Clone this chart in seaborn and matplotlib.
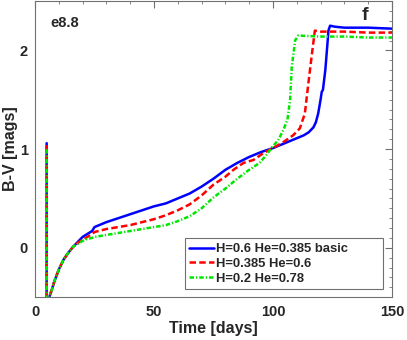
import matplotlib
matplotlib.use("Agg")
import matplotlib.pyplot as plt
import seaborn as sns
from matplotlib.ticker import MultipleLocator

sns.set_style("white")
plt.rcParams['font.family'] = ['Liberation Sans', 'DejaVu Sans']
plt.rcParams['font.weight'] = 'bold'

labels = ["H=0.6 He=0.385 basic", "H=0.385 He=0.6", "H=0.2 He=0.78"]

blue_t = [4.9, 4.9, 5.6, 6.0, 7, 8, 10, 12, 14, 16, 18, 20, 22, 24, 25, 30, 35, 40, 45, 50,
          55, 60, 65, 70, 75, 80, 85, 90, 95, 100, 105, 110, 113, 115, 117, 118, 119, 120,
          120.5, 121, 121.5, 122, 122.5, 123, 123.3, 124, 126, 130, 140, 150]
blue_v = [1.06, -0.6, -0.6, -0.5, -0.43, -0.35, -0.22, -0.12, -0.05, 0.01, 0.06, 0.11, 0.14,
          0.17, 0.21, 0.26, 0.30, 0.34, 0.38, 0.42, 0.45, 0.50, 0.55, 0.62, 0.70, 0.79, 0.86,
          0.92, 0.97, 1.01, 1.06, 1.11, 1.14, 1.17, 1.22, 1.27, 1.36, 1.50, 1.58, 1.60, 1.70,
          1.80, 1.95, 2.10, 2.20, 2.25, 2.24, 2.23, 2.23, 2.22]

red_t = [4.9, 4.9, 5.6, 6.0, 7, 8, 10, 12, 14, 16, 18, 20, 22, 24, 25, 30, 35, 40, 45, 50,
         55, 60, 65, 70, 75, 80, 83.4, 87.6, 91.8, 96, 100, 104.3, 108.5, 111.3, 113.4, 114.8,
         116.2, 117.6, 120, 130, 140, 150]
red_v = [1.04, -0.6, -0.6, -0.5, -0.43, -0.35, -0.22, -0.12, -0.05, 0.01, 0.05, 0.08, 0.11,
         0.14, 0.16, 0.19, 0.21, 0.23, 0.26, 0.29, 0.33, 0.38, 0.44, 0.53, 0.64, 0.72, 0.79,
         0.86, 0.89, 0.96, 1.01, 1.07, 1.14, 1.21, 1.36, 1.65, 1.93, 2.20, 2.19, 2.19, 2.18, 2.18]

green_t = [4.9, 4.9, 5.6, 6.0, 7, 8, 10, 12, 14, 16, 18, 20, 22, 24, 25, 30, 35, 40, 45, 50,
           55, 60, 65, 70, 75, 80, 85, 90, 94.4, 97.2, 100, 102.2, 104.3, 106.1, 107.2, 107.9,
           109.3, 110.6, 120, 130, 140, 150]
green_v = [1.00, -0.6, -0.6, -0.5, -0.43, -0.35, -0.22, -0.12, -0.05, 0.01, 0.04, 0.07, 0.09,
           0.10, 0.11, 0.13, 0.15, 0.17, 0.19, 0.21, 0.23, 0.27, 0.32, 0.40, 0.51, 0.60, 0.70,
           0.79, 0.86, 0.94, 1.03, 1.09, 1.19, 1.30, 1.50, 1.83, 2.10, 2.15, 2.14, 2.14, 2.13, 2.13]

fig = plt.figure(figsize=(4.07, 3.40), dpi=100)
ax = fig.add_axes([0.086, 0.126, 0.877, 0.871])

sns.lineplot(x=blue_t, y=blue_v, sort=False, estimator=None, ax=ax, color=(0, 0, 1),
             lw=1.8, label=labels[0])
sns.lineplot(x=red_t, y=red_v, sort=False, estimator=None, ax=ax, color=(1, 0, 0),
             lw=1.8, label=labels[1], dashes=False, linestyle=(0, (2.6, 1.3)))
sns.lineplot(x=green_t, y=green_v, sort=False, estimator=None, ax=ax, color=(0, 0.9, 0),
             lw=1.8, label=labels[2], dashes=False, linestyle=(0, (1.8, 0.8, 0.5, 0.8)))

ax.set_xlim(0, 150)
ax.set_ylim(-0.5, 2.5)
ax.xaxis.set_major_locator(MultipleLocator(50))
ax.xaxis.set_minor_locator(MultipleLocator(10))
ax.yaxis.set_major_locator(MultipleLocator(1))
ax.yaxis.set_minor_locator(MultipleLocator(0.1))
ax.tick_params(which='both', direction='in', top=True, right=True, color='#707070',
               labelsize=10.5)
ax.tick_params(axis='x', which='major', pad=6)
ax.tick_params(axis='y', which='major', pad=5)
ax.tick_params(which='major', length=5, width=0.8)
ax.tick_params(which='minor', length=2.5, width=0.6)
for lbl in ax.get_xticklabels() + ax.get_yticklabels():
    lbl.set_fontweight('bold')
for s in ax.spines.values():
    s.set_color('#707070')
    s.set_linewidth(0.8)

ax.set_xlabel("Time [days]", fontsize=11.5, fontweight='bold', labelpad=1)
ax.set_ylabel("B-V [mags]", fontsize=11.5, fontweight='bold', labelpad=1)

ax.text(0.042, 0.925, "e8.8", transform=ax.transAxes, fontsize=10.5, fontweight='bold',
        va='center', ha='left')
ax.text(0.915, 0.95, "f", transform=ax.transAxes, fontsize=14, fontweight='bold',
        va='center', ha='left')

leg = ax.legend(loc='lower left', bbox_to_anchor=(0.42, 0.027, 0.555, 0.17),
                mode='expand', borderaxespad=0,
                prop={'weight': 'bold', 'size': 9.4}, handlelength=1.9, handletextpad=0.1,
                fancybox=False, framealpha=1, edgecolor='#707070', labelspacing=0.2,
                borderpad=0.35)
leg.get_frame().set_linewidth(0.8)

fig.savefig("out.png", dpi=100)
